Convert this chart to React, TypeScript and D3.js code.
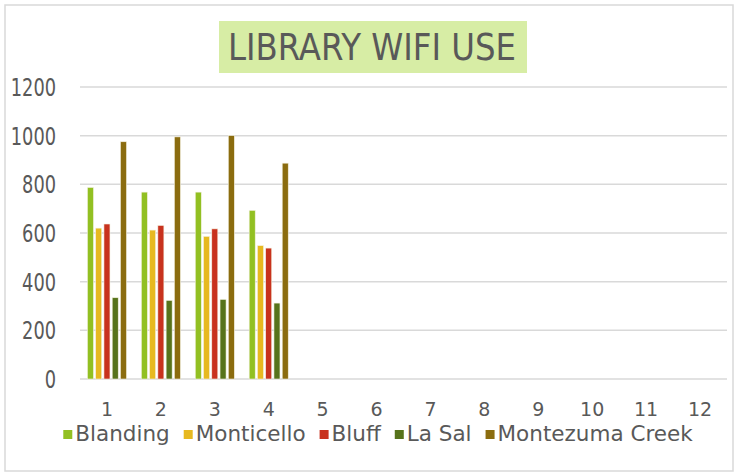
import React, { useEffect, useRef } from "react";
import * as d3 from "d3";

const months = ["1", "2", "3", "4", "5", "6", "7", "8", "9", "10", "11", "12"];
const seriesNames = ["Blanding", "Monticello", "Bluff", "La Sal", "Montezuma Creek"];
const seriesColors = ["#92c022", "#e7b920", "#c8321e", "#57731b", "#8b6c0f"];
const blanding = [787, 768, 768, 693];
const monticello = [620, 612, 586, 548];
const bluff = [637, 631, 617, 538];
const laSal = [334, 323, 327, 312];
const montezuma = [975, 995, 1000, 887];
const yTicks = [0, 200, 400, 600, 800, 1000, 1200];

const W = 736;
const H = 473;
const narrow = "'Liberation Sans Narrow', 'DejaVu Sans Condensed', sans-serif";
const wide = "'DejaVu Sans', sans-serif";

export default function App() {
  const ref = useRef<SVGSVGElement | null>(null);

  useEffect(() => {
    const svg = d3.select(ref.current);
    svg.selectAll("*").remove();

    const values = [blanding, monticello, bluff, laSal, montezuma];

    // outer frame
    svg.append("rect")
      .attr("x", 5).attr("y", 5).attr("width", 728).attr("height", 466)
      .attr("fill", "#fff").attr("stroke", "#d9d9d9").attr("stroke-width", 1.5);

    // title
    svg.append("rect")
      .attr("x", 219).attr("y", 21).attr("width", 308).attr("height", 52)
      .attr("fill", "#d7eda5");
    svg.append("text")
      .attr("x", 372).attr("y", 60)
      .attr("text-anchor", "middle")
      .attr("font-family", narrow).attr("font-size", 37)
      .attr("textLength", 288).attr("lengthAdjust", "spacingAndGlyphs")
      .attr("fill", "#595959")
      .text("LIBRARY WIFI USE");

    const x = d3.scaleBand().domain(months).range([80, 727]);
    const xs = d3.scaleBand().domain(seriesNames)
      .range([0, x.bandwidth()])
      .paddingInner(0.27).paddingOuter(0.9);
    const y = d3.scaleLinear().domain([0, 1200]).range([379, 87]);

    // gridlines + y labels
    const gy = svg.append("g");
    gy.selectAll("line").data(yTicks).join("line")
      .attr("x1", 80).attr("x2", 727)
      .attr("y1", d => y(d)).attr("y2", d => y(d))
      .attr("stroke", "#d9d9d9").attr("stroke-width", 1.5);
    gy.selectAll("text").data(yTicks).join("text")
      .attr("x", 56).attr("y", d => y(d) + 9)
      .attr("text-anchor", "end")
      .attr("font-family", narrow).attr("font-size", 24)
      .attr("textLength", d => String(d).length * 11.3)
      .attr("lengthAdjust", "spacingAndGlyphs")
      .attr("fill", "#595959")
      .text(d => d);

    // bars
    seriesNames.forEach((name, si) => {
      svg.append("g").selectAll("rect")
        .data(values[si])
        .join("rect")
        .attr("x", (_, i) => (x(months[i]) as number) + (xs(name) as number))
        .attr("y", d => y(d))
        .attr("width", xs.bandwidth())
        .attr("height", d => y(0) - y(d))
        .attr("fill", seriesColors[si])
        .attr("stroke", "#f4f1e0").attr("stroke-width", 0.6);
    });

    // x labels
    svg.append("g").selectAll("text").data(months).join("text")
      .attr("x", d => (x(d) as number) + x.bandwidth() / 2)
      .attr("y", 416)
      .attr("text-anchor", "middle")
      .attr("font-family", wide).attr("font-size", 19)
      .attr("fill", "#595959")
      .text(d => d);

    // legend
    const lg = svg.append("g");
    let cx = 0;
    seriesNames.forEach((name, i) => {
      lg.append("rect")
        .attr("x", cx).attr("y", -11).attr("width", 9).attr("height", 9)
        .attr("fill", seriesColors[i]);
      const t = lg.append("text")
        .attr("x", cx + 12).attr("y", 0)
        .attr("font-family", wide).attr("font-size", 21.5)
        .attr("fill", "#595959")
        .text(name);
      const w = (t.node() as SVGTextElement).getComputedTextLength();
      cx += 12 + w + 14;
    });
    const total = cx - 14;
    lg.attr("transform", `translate(${378 - total / 2},441)`);
  }, []);

  return (
    <svg
      ref={ref}
      width={W}
      height={H}
      style={{ position: "absolute", left: 0, top: 0 }}
    />
  );
}
